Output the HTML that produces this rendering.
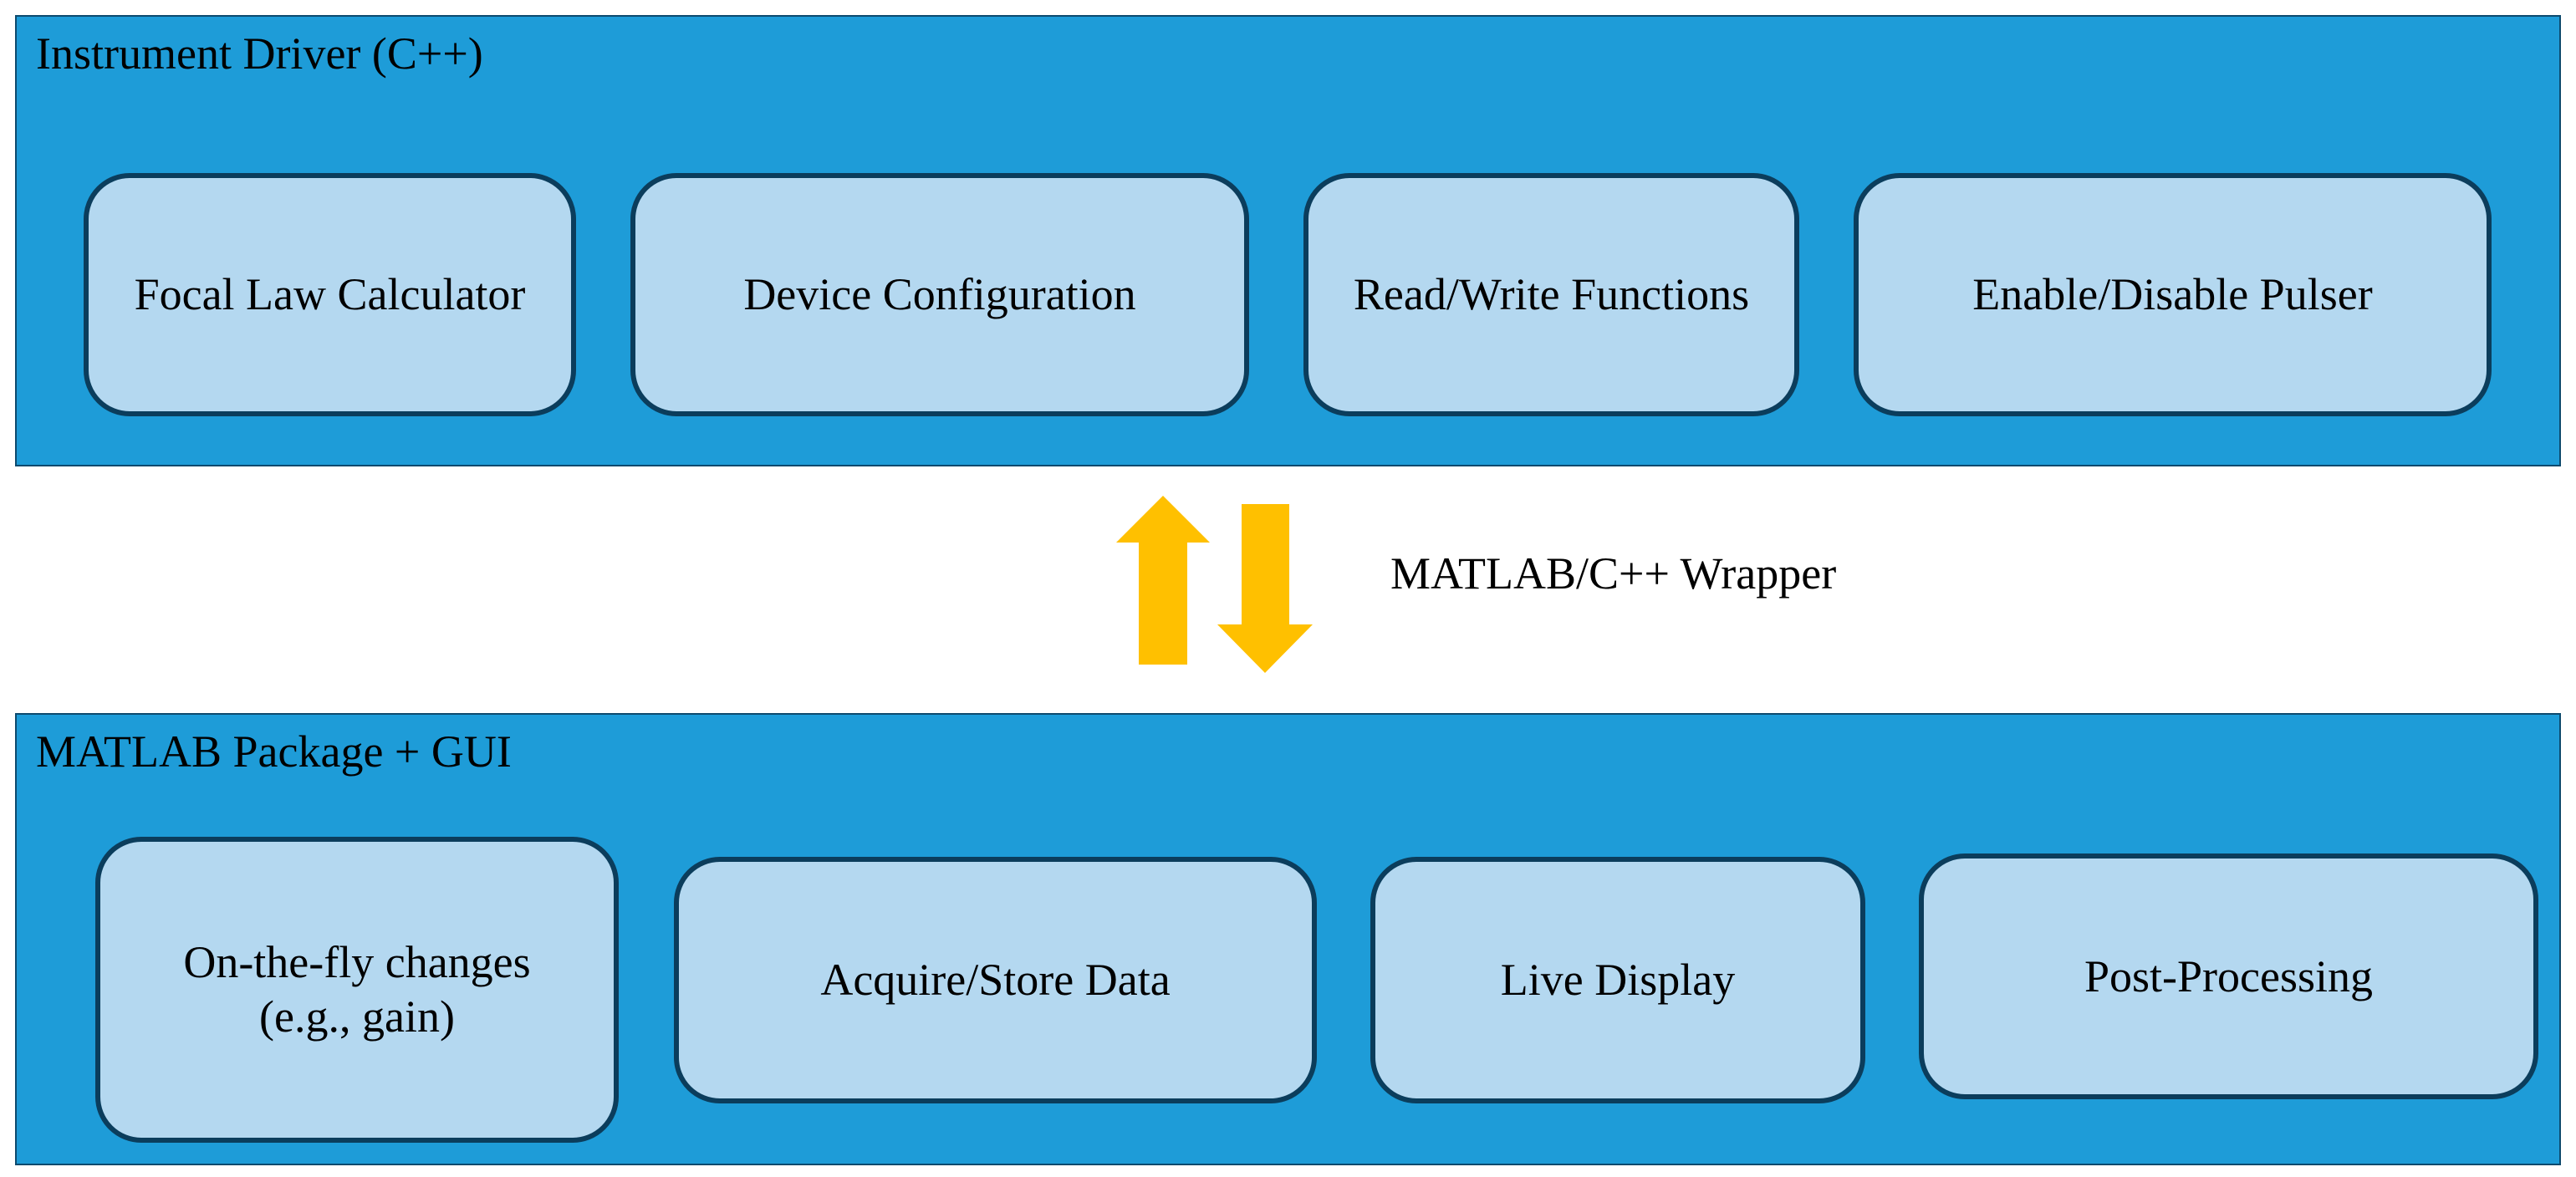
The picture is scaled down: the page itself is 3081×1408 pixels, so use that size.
<!DOCTYPE html>
<html><head><meta charset="utf-8"><style>
html,body{margin:0;padding:0;background:#fff;}
body{width:3081px;height:1408px;position:relative;overflow:hidden;font-family:"Liberation Serif","Times New Roman",Times,"DejaVu Serif",serif;color:#000;}
.panel{position:absolute;background:#1e9cd8;border:2px solid #0d4a6e;box-sizing:border-box;}
.title{position:absolute;font-family:"Liberation Serif","Times New Roman",Times,serif;font-size:54px;white-space:nowrap;}
.box{position:absolute;background:#b4d8f0;border:6px solid #0b3d5c;border-radius:55px;box-sizing:border-box;display:flex;align-items:center;justify-content:center;text-align:center;font-family:"Liberation Serif","Times New Roman",Times,serif;font-size:54px;line-height:65px;}
</style></head><body>
<div class="panel" style="left:18px;top:18px;width:3045px;height:540px;"></div>
<div class="title" style="left:43px;top:33px;">Instrument Driver (C++)</div>
<div class="box" style="left:100px;top:207px;width:589px;height:291px;">Focal Law Calculator</div>
<div class="box" style="left:754px;top:207px;width:740px;height:291px;">Device Configuration</div>
<div class="box" style="left:1559px;top:207px;width:593px;height:291px;">Read/Write Functions</div>
<div class="box" style="left:2217px;top:207px;width:763px;height:291px;">Enable/Disable Pulser</div>

<svg style="position:absolute;left:0;top:0" width="3081" height="1408">
<polygon points="1391,593 1447,649 1420,649 1420,795 1362,795 1362,649 1335,649" fill="#ffc000"/>
<polygon points="1485,603 1542,603 1542,747 1570,747 1513,805 1456,747 1485,747" fill="#ffc000"/>
</svg>
<div class="title" style="left:1663px;top:655px;">MATLAB/C++ Wrapper</div>

<div class="panel" style="left:18px;top:853px;width:3045px;height:541px;"></div>
<div class="title" style="left:43px;top:868px;">MATLAB Package + GUI</div>
<div class="box" style="left:114px;top:1001px;width:626px;height:366px;">On-the-fly changes<br>(e.g., gain)</div>
<div class="box" style="left:806px;top:1025px;width:769px;height:295px;">Acquire/Store Data</div>
<div class="box" style="left:1639px;top:1025px;width:592px;height:295px;">Live Display</div>
<div class="box" style="left:2295px;top:1021px;width:741px;height:294px;">Post-Processing</div>
</body></html>
